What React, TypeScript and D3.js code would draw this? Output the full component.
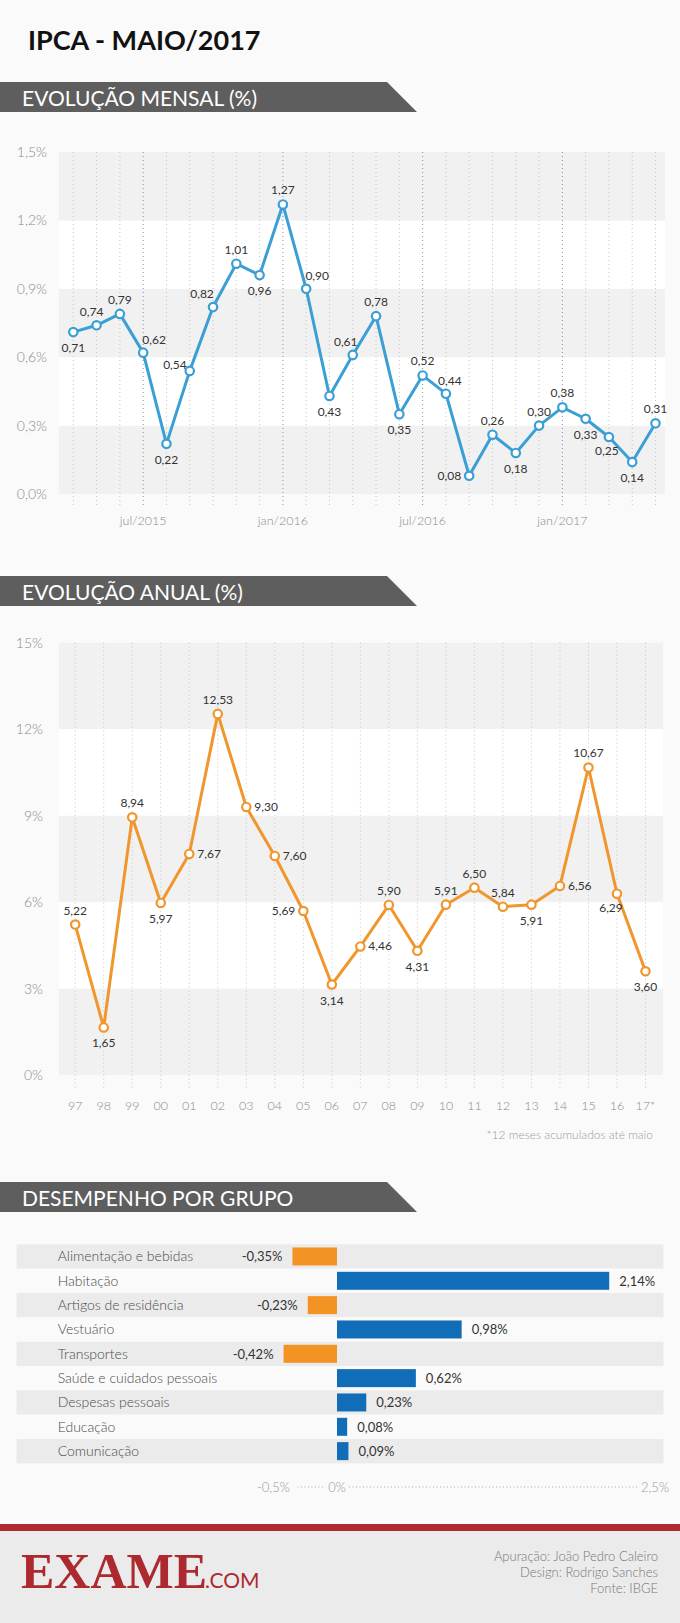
import React, { useLayoutEffect } from "react";
import * as d3 from "d3";

// ---------- DATA ----------
const monthLabels = [
  "abr/2015","mai/2015","jun/2015","jul/2015","ago/2015","set/2015","out/2015","nov/2015","dez/2015",
  "jan/2016","fev/2016","mar/2016","abr/2016","mai/2016","jun/2016","jul/2016","ago/2016","set/2016",
  "out/2016","nov/2016","dez/2016","jan/2017","fev/2017","mar/2017","abr/2017","mai/2017",
];
const monthValues = [
  0.71, 0.74, 0.79, 0.62, 0.22, 0.54, 0.82, 1.01, 0.96, 1.27, 0.90, 0.43, 0.61, 0.78, 0.35,
  0.52, 0.44, 0.08, 0.26, 0.18, 0.30, 0.38, 0.33, 0.25, 0.14, 0.31,
];
const monthLabelPlacement = [
  "b","tl5","t","tr","b","lt","tl","t","b","t","tr","b","tl7","t","b","t","tr4","l","t","b","t","t","b","bl","b","t",
];
const monthTickShown = ["jul/2015", "jan/2016", "jul/2016", "jan/2017"];
const monthYTicks = [0, 0.3, 0.6, 0.9, 1.2, 1.5];
const monthYTickLabels = ["0,0%", "0,3%", "0,6%", "0,9%", "1,2%", "1,5%"];

const yearLabels = ["97","98","99","00","01","02","03","04","05","06","07","08","09","10","11","12","13","14","15","16","17*"];
const yearValues = [5.22, 1.65, 8.94, 5.97, 7.67, 12.53, 9.30, 7.60, 5.69, 3.14, 4.46, 5.90, 4.31, 5.91, 6.50, 5.84, 5.91, 6.56, 10.67, 6.29, 3.60];
const yearLabelPlacement = ["t","b","t","b","r","t","r","r","l","b","r","t","b","t","t","t","b","r","t","bl6","b"];
const yearYTicks = [0, 3, 6, 9, 12, 15];
const yearYTickLabels = ["0%", "3%", "6%", "9%", "12%", "15%"];

const groupNames = [
  "Alimentação e bebidas","Habitação","Artigos de residência","Vestuário","Transportes",
  "Saúde e cuidados pessoais","Despesas pessoais","Educação","Comunicação",
];
const groupValues = [-0.35, 2.14, -0.23, 0.98, -0.42, 0.62, 0.23, 0.08, 0.09];
const groupAxisTicks = [-0.5, 0, 2.5];
const groupAxisLabels = ["-0,5%", "0%", "2,5%"];

const credits = ["Apuração: João Pedro Caleiro", "Design: Rodrigo Sanches", "Fonte: IBGE"];

// ---------- STYLE ----------
const FONT = "Lato, 'Open Sans', sans-serif";
const BG = "#fafafa";
const BAND = "#f1f1f1";
const BLUE_LINE = "#3a9fd5";
const ORANGE_LINE = "#f0962c";
const BAR_NEG = "#f39324";
const BAR_POS = "#116db7";
const BANNER = "#5e5e5e";

const fmt = (v: number) => v.toFixed(2).replace(".", ",");

function labelOffset(code: string): { dx: number; dy: number; anchor: string } {
  const n = parseFloat(code.replace(/[a-z]/g, "")) || 0;
  const c = code.replace(/[0-9.]/g, "");
  switch (c) {
    case "t": return { dx: 0, dy: -10, anchor: "middle" };
    case "b": return { dx: 0, dy: 20, anchor: "middle" };
    case "l": return { dx: -8, dy: 4, anchor: "end" };
    case "r": return { dx: 8, dy: 4, anchor: "start" };
    case "tl": return { dx: -(n || 11), dy: -9, anchor: "middle" };
    case "tr": return { dx: n || 11, dy: -9, anchor: "middle" };
    case "bl": return { dx: -(n || 2), dy: 18, anchor: "middle" };
    case "lt": return { dx: -3, dy: -2, anchor: "end" };
    default: return { dx: 0, dy: -10, anchor: "middle" };
  }
}

function Banner({ y, text }: { y: number; text: string }) {
  const pts = [[0, y], [387, y], [417, y + 30], [0, y + 30]].map((p) => p.join(",")).join(" ");
  return (
    <g>
      <polygon points={pts} fill={BANNER} />
      <text x={22} y={y + 24} fill="#fff" fontFamily={FONT} fontSize={21}>{text}</text>
    </g>
  );
}

function LineChart(props: {
  values: number[]; labels: string[]; placement: string[]; color: string;
  xRange: [number, number]; yDomain: [number, number]; yRange: [number, number];
  bandX: [number, number]; yTicks: number[]; yTickLabels: string[]; yLabelX: number;
  gridBottom: number; xLabelY: number; showXLabel: (l: string) => boolean; highlight: (l: string) => boolean;
}) {
  const { values, labels, placement, color } = props;
  const x = d3.scaleLinear().domain([0, values.length - 1]).range(props.xRange);
  const y = d3.scaleLinear().domain(props.yDomain).range(props.yRange);
  const line = d3.line<number>().x((_, i) => x(i)).y((d) => y(d));
  const bands = props.yTicks.slice(0, -1).map((t, i) => ({ y0: t, y1: props.yTicks[i + 1], gray: i % 2 === 0 }));
  return (
    <g>
      {bands.map((b, i) => (
        <rect key={i} x={props.bandX[0]} width={props.bandX[1] - props.bandX[0]} y={y(b.y1)} height={y(b.y0) - y(b.y1)} fill={b.gray ? BAND : "#ffffff"} />
      ))}
      {props.yTicks.map((t, i) => (
        <text key={i} x={props.yLabelX} y={y(t) + 5} textAnchor="end" fontFamily={FONT} fontWeight={300} fontSize={14} fill="#8a8a8a">{props.yTickLabels[i]}</text>
      ))}
      {labels.map((l, i) => (
        <line key={i} x1={x(i)} x2={x(i)} y1={y(props.yDomain[1])} y2={props.gridBottom}
          stroke={props.highlight(l) ? "#7d8cc4" : "#c4c4c4"} strokeWidth={1} strokeDasharray="1,3" />
      ))}
      {labels.map((l, i) => props.showXLabel(l) ? (
        <text key={i} x={x(i)} y={props.xLabelY} textAnchor="middle" fontFamily={FONT} fontWeight={300} fontSize={12.5} fill="#8a8a8a">{l}</text>
      ) : null)}
      <path d={line(values) || ""} fill="none" stroke={color} strokeWidth={3} strokeLinejoin="round" />
      {values.map((v, i) => (
        <circle key={i} cx={x(i)} cy={y(v)} r={4.2} fill="#fff" stroke={color} strokeWidth={2.2} />
      ))}
      {values.map((v, i) => {
        const o = labelOffset(placement[i]);
        return (
          <text key={i} x={x(i) + o.dx} y={y(v) + o.dy} textAnchor={o.anchor} fontFamily={FONT} fontSize={12} fill="#333">{fmt(v)}</text>
        );
      })}
    </g>
  );
}

function BarChart() {
  const x = d3.scaleLinear().domain([-0.5, 2.5]).range([273.4, 655]);
  const y = d3.scaleBand<string>().domain(groupNames).range([1244.3, 1463.3]);
  const rowH = y.bandwidth();
  const barH = 18;
  return (
    <g>
      {groupNames.map((g, i) => (
        <rect key={g} x={16.5} width={647} y={y(g)} height={rowH} fill={i % 2 === 0 ? "#ebebeb" : "#fafafa"} />
      ))}
      {groupNames.map((g) => (
        <text key={g} x={57.7} y={(y(g) as number) + rowH / 2 + 5} fontFamily={FONT} fontWeight={300} fontSize={14} fill="#4a4a4a">{g}</text>
      ))}
      {groupValues.map((v, i) => {
        const g = groupNames[i];
        const x0 = x(Math.min(0, v));
        const x1 = x(Math.max(0, v));
        const yc = (y(g) as number) + rowH / 2;
        return (
          <g key={g}>
            <rect x={x0} width={x1 - x0} y={yc - barH / 2} height={barH} fill={v < 0 ? BAR_NEG : BAR_POS} />
            <text x={v < 0 ? x0 - 10 : x1 + 10} y={yc + 5} textAnchor={v < 0 ? "end" : "start"} fontFamily={FONT} fontSize={13} fill="#333">
              {fmt(v) + "%"}
            </text>
          </g>
        );
      })}
      {groupAxisTicks.map((t, i) => (
        <text key={i} x={x(t)} y={1491.5} textAnchor="middle" fontFamily={FONT} fontWeight={300} fontSize={13} fill="#999">{groupAxisLabels[i]}</text>
      ))}
      <line x1={x(-0.5) + 24} x2={x(0) - 12} y1={1487} y2={1487} stroke="#aaa" strokeDasharray="1,2.5" />
      <line x1={x(0) + 12} x2={x(2.5) - 18} y1={1487} y2={1487} stroke="#aaa" strokeDasharray="1,2.5" />
    </g>
  );
}

export default function App() {
  useLayoutEffect(() => {
    document.body.style.margin = "0";
  }, []);
  const W = 680, H = 1623;
  return (
    <svg width={W} height={H} viewBox={`0 0 ${W} ${H}`} style={{ display: "block", position: "absolute", left: 0, top: 0 }}>
      <rect width={W} height={H} fill={BG} />
      <text x={28} y={50} fontFamily={FONT} fontWeight={700} fontSize={27} fill="#111">IPCA - MAIO/2017</text>

      <Banner y={82} text="EVOLUÇÃO MENSAL (%)" />
      <LineChart
        values={monthValues} labels={monthLabels} placement={monthLabelPlacement} color={BLUE_LINE}
        xRange={[73.3, 655.5]} yDomain={[0, 1.5]} yRange={[494, 152]} bandX={[59, 665]}
        yTicks={monthYTicks} yTickLabels={monthYTickLabels} yLabelX={47}
        gridBottom={507} xLabelY={525}
        showXLabel={(l) => monthTickShown.includes(l)} highlight={(l) => monthTickShown.includes(l)}
      />

      <Banner y={576} text="EVOLUÇÃO ANUAL (%)" />
      <LineChart
        values={yearValues} labels={yearLabels} placement={yearLabelPlacement} color={ORANGE_LINE}
        xRange={[75.2, 645.5]} yDomain={[0, 15]} yRange={[1075, 642.7]} bandX={[59, 663]}
        yTicks={yearYTicks} yTickLabels={yearYTickLabels} yLabelX={43}
        gridBottom={1088} xLabelY={1110}
        showXLabel={() => true} highlight={() => false}
      />
      <text x={653} y={1139} textAnchor="end" fontFamily={FONT} fontWeight={300} fontSize={12} fill="#9a9a9a">*12 meses acumulados até maio</text>

      <Banner y={1182} text="DESEMPENHO POR GRUPO" />
      <BarChart />

      <rect x={0} y={1531} width={W} height={H - 1531} fill="#ebebeb" />
      <rect x={0} y={1524} width={W} height={7} fill="#b02a30" />
      <text x={21} y={1588} fontFamily="'Liberation Serif', 'DejaVu Serif', serif" fontWeight={700} fontSize={50} fill="#ac2a2f">EXAME</text>
      <text x={205} y={1588} fontFamily={FONT} fontSize={21} fill="#ac2a2f">.COM</text>
      {credits.map((c, i) => (
        <text key={i} x={658} y={1561 + i * 16} textAnchor="end" fontFamily={FONT} fontWeight={300} fontSize={13} fill="#777">{c}</text>
      ))}
    </svg>
  );
}
